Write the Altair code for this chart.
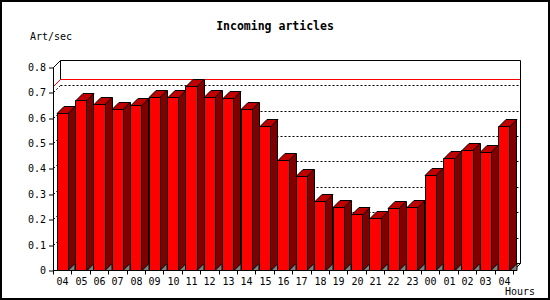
import altair as alt
import pandas as pd

# ---------------- data ----------------
hours = ["04", "05", "06", "07", "08", "09", "10", "11", "12", "13", "14", "15",
         "16", "17", "18", "19", "20", "21", "22", "23", "00", "01", "02", "03", "04"]
values = [0.617, 0.670, 0.653, 0.633, 0.649, 0.683, 0.680, 0.724, 0.680, 0.676,
          0.633, 0.566, 0.432, 0.369, 0.271, 0.247, 0.219, 0.204, 0.243, 0.247,
          0.373, 0.440, 0.473, 0.466, 0.569]
y_ticks = [0, 0.1, 0.2, 0.3, 0.4, 0.5, 0.6, 0.7, 0.8]
grid_values = [0.1, 0.2, 0.3, 0.4, 0.5, 0.6, 0.7]
title_text = "Incoming articles"
y_title = "Art/sec"
x_title = "Hours"

# ---------------- layout / style ----------------
LEFT, TOP = 53.5, 60.5          # half-pixel origin so 1px strokes are crisp
FRONT_W, FRONT_H = 460, 203
DEPTH = 7
W, H = FRONT_W + DEPTH, FRONT_H + DEPTH
N = len(values)
YMAX = 0.8
slot = FRONT_W / N
BAR_L, BAR_R = 0.2, 0.8
half = 5.5
FONT = "DejaVu Sans Mono"

FRONT_C = "#ff0000"
SIDE_C = "#800000"
TOP_C = "#c00000"
FLOOR_C = "#808080"

xs = alt.Scale(domain=[0, N * W / FRONT_W], nice=False, zero=False, round=True)
ys = alt.Scale(domain=[0, YMAX * H / FRONT_H], nice=False, zero=False, round=True)

y_axis = alt.Axis(values=y_ticks, title=None, domain=False, grid=False,
                  tickSize=5, tickColor="black", labelColor="black",
                  labelFont=FONT, labelFontSize=10, labelPadding=3,
                  labelExpr="datum.value == 0 ? '0' : format(datum.value, '.1f')")


def X(f):
    return alt.X(f, type="quantitative", scale=xs, axis=None)


def Y(f):
    return alt.Y(f, type="quantitative", scale=ys, axis=y_axis)


df = pd.DataFrame({"i": list(range(N)), "hour": hours, "value": values})
df["x0"] = df["i"] + BAR_L
df["x1"] = df["i"] + BAR_R
df["xc"] = df["i"] + 0.5
df["zero"] = 0.0

vmax = max(values)

# ---------------- back plane ----------------
grid_df = pd.DataFrame({"y": grid_values, "xa": 0.0, "xb": float(N)})
grid_back = alt.Chart(grid_df).mark_rule(
    stroke="black", strokeWidth=1, strokeDash=[2, 2],
    xOffset=DEPTH, x2Offset=DEPTH, yOffset=-DEPTH, y2Offset=-DEPTH
).encode(x=X("xa"), x2="xb", y=Y("y"))
grid_wall = alt.Chart(grid_df).mark_rule(
    stroke="black", strokeWidth=1, strokeDash=[2, 2],
    x2Offset=DEPTH, y2Offset=-DEPTH
).encode(x=X("xa"), x2="xa", y=Y("y"), y2="y")

max_df = pd.DataFrame({"y": [vmax], "xa": [0.0], "xb": [float(N)]})
max_back = alt.Chart(max_df).mark_rule(
    stroke="#ff0000", strokeWidth=1,
    xOffset=DEPTH, x2Offset=DEPTH, yOffset=-DEPTH, y2Offset=-DEPTH
).encode(x=X("xa"), x2="xb", y=Y("y"))
max_wall = alt.Chart(max_df).mark_rule(
    stroke="#ff0000", strokeWidth=1, x2Offset=DEPTH, y2Offset=-DEPTH
).encode(x=X("xa"), x2="xa", y=Y("y"), y2="y")

hb_df = pd.DataFrame({"y": [0.0, YMAX], "xa": [0.0, 0.0], "xb": [float(N), float(N)]})
frame_h = alt.Chart(hb_df).mark_rule(
    stroke="black", strokeWidth=1,
    xOffset=DEPTH, x2Offset=DEPTH, yOffset=-DEPTH, y2Offset=-DEPTH
).encode(x=X("xa"), x2="xb", y=Y("y"))
vb_df = pd.DataFrame({"x": [float(N), 0.0], "ya": [0.0, vmax], "yb": [YMAX, YMAX]})
frame_v = alt.Chart(vb_df).mark_rule(
    stroke="black", strokeWidth=1,
    xOffset=DEPTH, x2Offset=DEPTH, yOffset=-DEPTH, y2Offset=-DEPTH
).encode(x=X("x"), x2="x", y=Y("ya"), y2="yb")
diag_df = pd.DataFrame({"x": [0.0, float(N)], "y": [YMAX, 0.0]})
frame_d = alt.Chart(diag_df).mark_rule(
    stroke="black", strokeWidth=1, x2Offset=DEPTH, y2Offset=-DEPTH
).encode(x=X("x"), x2="x", y=Y("y"), y2="y")

# ---------------- 3D bars ----------------
side = alt.Chart(df).mark_rect(
    fill=SIDE_C, stroke="black", strokeWidth=1, x2Offset=DEPTH, yOffset=-DEPTH
).encode(x=X("x1"), x2="x1", y=Y("value"), y2="zero")

top_path = (f"M {-half:.2f} 0 L {half:.2f} 0 L {half + DEPTH:.2f} {-DEPTH} "
            f"L {-half + DEPTH:.2f} {-DEPTH} Z")
top_face = alt.Chart(df).mark_point(
    shape=top_path, size=4, filled=True, fill=TOP_C, stroke="black",
    strokeWidth=1, opacity=1
).encode(x=X("xc"), y=Y("value"))

floor_path = (f"M {half:.2f} 0 L {half + DEPTH:.2f} 0 L {half + DEPTH:.2f} {-DEPTH} Z")
floor_face = alt.Chart(df).mark_point(
    shape=floor_path, size=4, filled=True, fill=FLOOR_C, stroke="black",
    strokeWidth=1, opacity=1
).encode(x=X("xc"), y=Y("zero"))

front = alt.Chart(df).mark_rect(
    fill=FRONT_C, stroke="black", strokeWidth=1
).encode(x=X("x0"), x2="x1", y=Y("value"), y2="zero")

# ---------------- front axes ----------------
fl_df = pd.DataFrame({"x": [0.0], "ya": [0.0], "yb": [YMAX]})
front_left = alt.Chart(fl_df).mark_rule(stroke="black", strokeWidth=1).encode(
    x=X("x"), y=Y("ya"), y2="yb")
fb_df = pd.DataFrame({"y": [0.0], "xa": [0.0], "xb": [float(N)]})
front_bottom = alt.Chart(fb_df).mark_rule(stroke="black", strokeWidth=1).encode(
    x=X("xa"), x2="xb", y=Y("y"))

tick_df = pd.DataFrame({"x": [float(k) for k in range(N + 1)]})
x_ticks = alt.Chart(tick_df).mark_rule(stroke="black", strokeWidth=1).encode(
    x=X("x"), y=alt.value(H), y2=alt.value(H + 4))

x_labels = alt.Chart(df).mark_text(
    font=FONT, fontSize=10, color="black", baseline="middle", align="center"
).encode(x=X("xc"), y=alt.value(H + 11), text="hour:N")

# ---------------- texts ----------------
title = alt.Chart(pd.DataFrame({"t": [title_text]})).mark_text(
    font=FONT, fontSize=11.5, fontWeight="bold", color="black",
    align="center", baseline="middle"
).encode(x=alt.value(275 - LEFT), y=alt.value(27 - TOP), text="t:N")

ytitle = alt.Chart(pd.DataFrame({"t": [y_title]})).mark_text(
    font=FONT, fontSize=10, color="black", align="left", baseline="middle"
).encode(x=alt.value(30 - LEFT), y=alt.value(37 - TOP), text="t:N")

xtitle = alt.Chart(pd.DataFrame({"t": [x_title]})).mark_text(
    font=FONT, fontSize=10, color="black", align="left", baseline="middle"
).encode(x=alt.value(505 - LEFT), y=alt.value(292 - TOP), text="t:N")

border = alt.Chart(pd.DataFrame({"t": [0]})).mark_rect(
    fillOpacity=0, stroke="black", strokeWidth=2
).encode(x=alt.value(1 - LEFT), x2=alt.value(549 - LEFT),
         y=alt.value(1 - TOP), y2=alt.value(299 - TOP))

chart = alt.layer(
    grid_back, grid_wall, max_back, max_wall, frame_h, frame_v, frame_d,
    side, top_face, floor_face, front,
    front_left, front_bottom, x_ticks, x_labels,
    title, ytitle, xtitle, border
).properties(
    width=W, height=H,
    autosize=alt.AutoSizeParams(type="none"),
    padding={"left": LEFT, "top": TOP, "right": 550 - LEFT - W, "bottom": 300 - TOP - H},
    background="white"
).configure_view(stroke=None)

chart.save("out.html", embed_options={"renderer": "svg", "actions": False})
